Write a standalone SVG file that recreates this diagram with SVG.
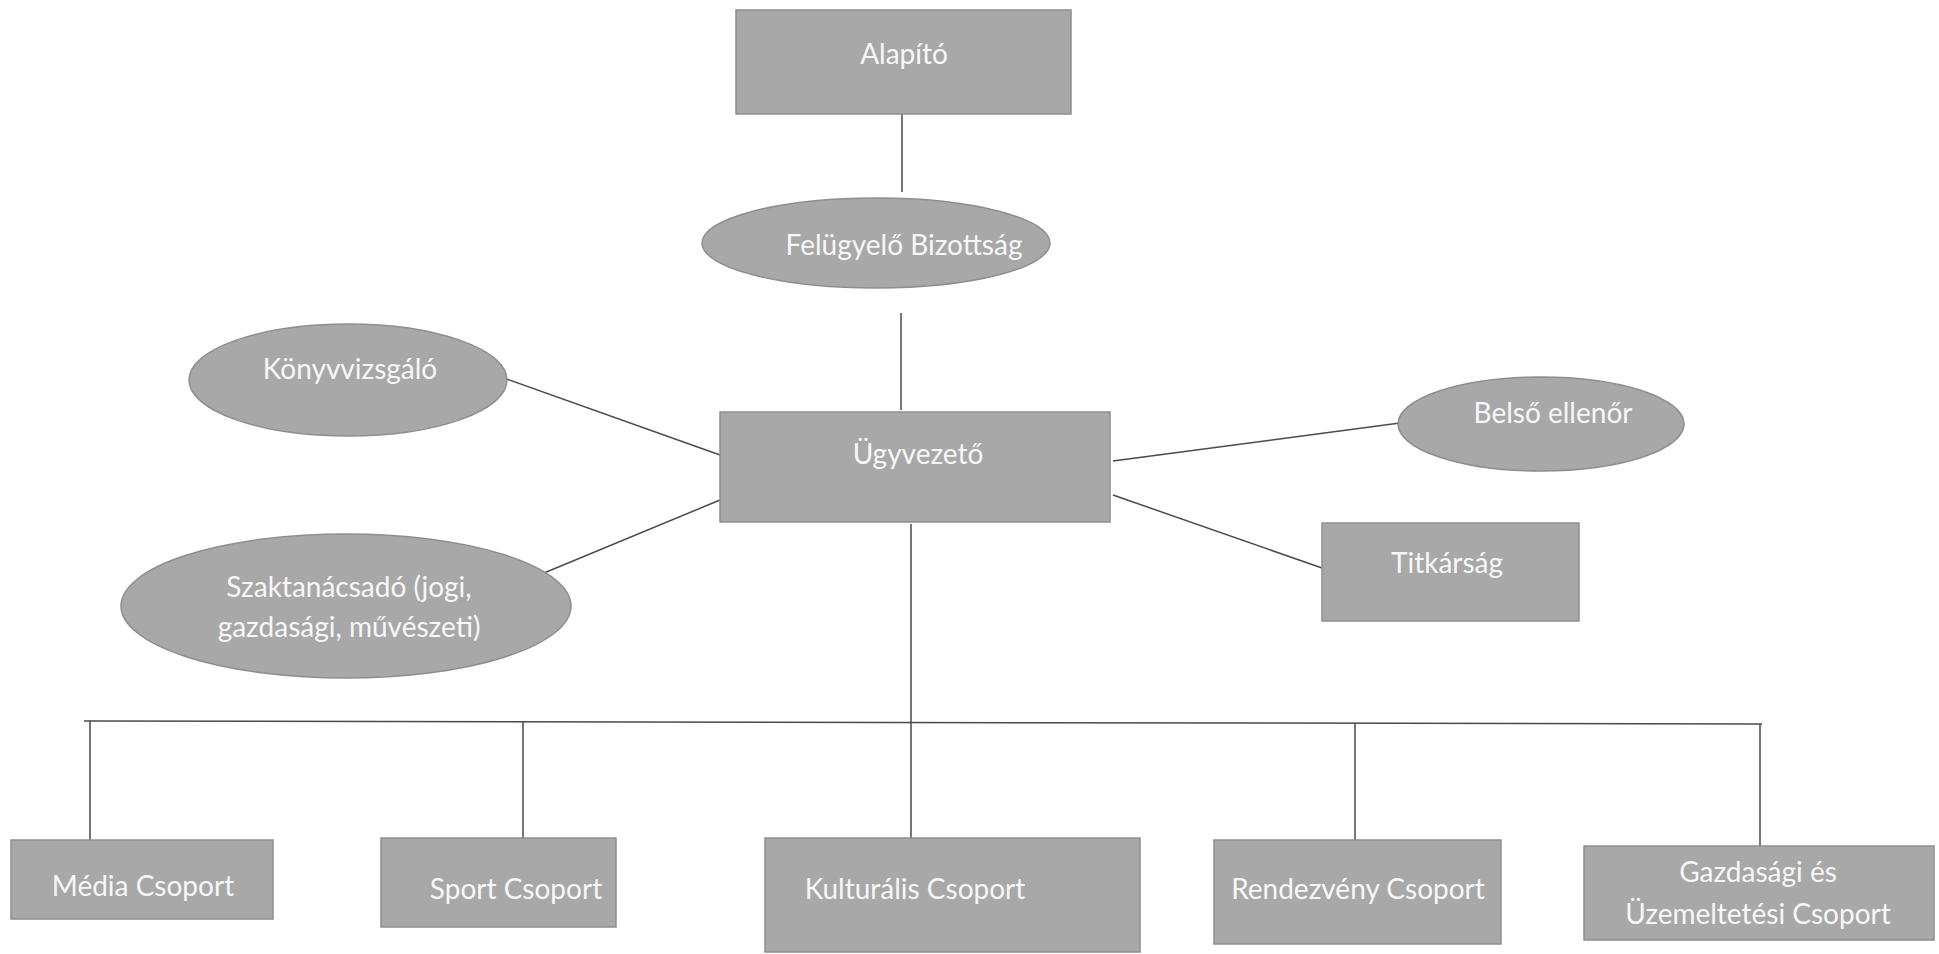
<svg xmlns="http://www.w3.org/2000/svg" width="1939" height="954" viewBox="0 0 1939 954">
<style>
.box{fill:#a8a8a8;stroke:#8e8e8e;stroke-width:1.5}
.t{font-family:Lato,"Open Sans","Liberation Sans",sans-serif;font-size:28px;fill:#f7f7f7;text-anchor:middle}
.c line{stroke:#4a4a4a;stroke-width:1.5}
</style>
<rect width="1939" height="954" fill="#ffffff"/>
<g class="c" id="connectors">
<line x1="902" y1="114" x2="902" y2="192"/>
<line x1="901" y1="313" x2="901" y2="410"/>
<line x1="501" y1="377" x2="720" y2="455"/>
<line x1="544" y1="573" x2="720" y2="500"/>
<line x1="1113" y1="461" x2="1400" y2="423"/>
<line x1="1113" y1="495" x2="1322" y2="568"/>
<line x1="911" y1="524" x2="911" y2="838"/>
<line x1="84" y1="721" x2="1762" y2="724"/>
<line x1="90" y1="721" x2="90" y2="840"/>
<line x1="523" y1="722" x2="523" y2="838"/>
<line x1="1355" y1="723" x2="1355" y2="840"/>
<line x1="1760" y1="724" x2="1760" y2="846"/>
</g>
<g id="alapito"><rect class="box" x="736" y="10" width="335" height="104"/><text class="t" x="904" y="64">Alapító</text></g>
<g id="felugyelo"><ellipse class="box" cx="876" cy="243" rx="174" ry="45"/><text class="t" x="904" y="255">Felügyelő Bizottság</text></g>
<g id="ugyvezeto"><rect class="box" x="720" y="412" width="390" height="110"/><text class="t" x="918" y="464">Ügyvezető</text></g>
<g id="konyvvizsgalo"><ellipse class="box" cx="348" cy="380" rx="159" ry="56"/><text class="t" x="350" y="379">Könyvvizsgáló</text></g>
<g id="szaktanacsado"><ellipse class="box" cx="346" cy="606" rx="225" ry="72"/><text class="t" x="349" y="597">Szaktanácsadó (jogi,</text><text class="t" x="349" y="637">gazdasági, művészeti)</text></g>
<g id="belso"><ellipse class="box" cx="1541" cy="424" rx="143" ry="47"/><text class="t" x="1553" y="423">Belső ellenőr</text></g>
<g id="titkarsag"><rect class="box" x="1322" y="523" width="257" height="98"/><text class="t" x="1447" y="573">Titkárság</text></g>
<g id="media"><rect class="box" x="11" y="840" width="262" height="79"/><text class="t" x="143" y="896">Média Csoport</text></g>
<g id="sport"><rect class="box" x="381" y="838" width="235" height="89"/><text class="t" x="516" y="899">Sport Csoport</text></g>
<g id="kulturalis"><rect class="box" x="765" y="838" width="375" height="114"/><text class="t" x="915" y="899">Kulturális Csoport</text></g>
<g id="rendezveny"><rect class="box" x="1214" y="840" width="287" height="104"/><text class="t" x="1358" y="899">Rendezvény Csoport</text></g>
<g id="gazdasagi"><rect class="box" x="1584" y="846" width="350" height="94"/><text class="t" x="1758" y="882">Gazdasági és</text><text class="t" x="1758" y="924">Üzemeltetési Csoport</text></g>
</svg>
